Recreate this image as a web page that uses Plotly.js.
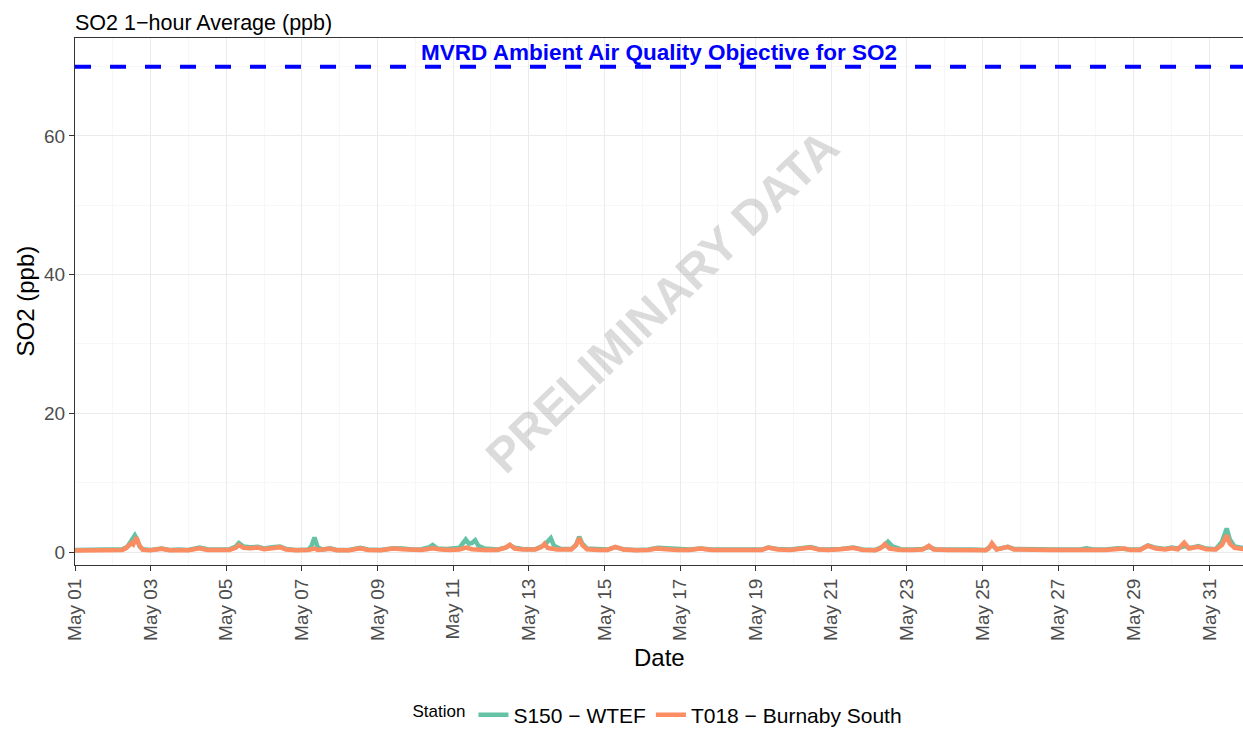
<!DOCTYPE html>
<html>
<head>
<meta charset="utf-8">
<script src="https://cdn.plot.ly/plotly-3.0.1.min.js"></script>
<style>html,body{margin:0;padding:0;background:#fff;}#chart{width:1243px;height:729px;}</style>
</head>
<body>
<div id="chart"></div>
<script>
// ---- data (hourly SO2, ppb; key readings) ----
const seriesNames = ["S150 \u2212 WTEF", "T018 \u2212 Burnaby South"];
const seriesColors = ["#66C2A5", "#FC8D62"];
const yearPrefix = "2023-";

const s150Time = ["05-01 00","05-01 06","05-01 12","05-01 18","05-02 00","05-02 06","05-02 09","05-02 12","05-02 14","05-02 15","05-02 17","05-02 19","05-03 00","05-03 07","05-03 12","05-03 18","05-04 00","05-04 07","05-04 12","05-04 18","05-05 02","05-05 06","05-05 08","05-05 11","05-05 15","05-05 20","05-06 00","05-06 05","05-06 10","05-06 14","05-06 20","05-07 04","05-07 06","05-07 08","05-07 10","05-07 13","05-07 18","05-07 22","05-08 06","05-08 13","05-08 18","05-09 02","05-09 10","05-09 16","05-09 22","05-10 04","05-10 09","05-10 11","05-10 14","05-10 20","05-11 04","05-11 06","05-11 08","05-11 10","05-11 12","05-11 14","05-11 16","05-11 20","05-12 04","05-12 10","05-12 12","05-12 15","05-12 20","05-13 04","05-13 10","05-13 12","05-13 14","05-13 16","05-13 20","05-14 03","05-14 06","05-14 08","05-14 10","05-14 13","05-14 20","05-15 02","05-15 07","05-15 12","05-15 20","05-16 04","05-16 10","05-16 16","05-16 22","05-17 06","05-17 13","05-17 20","05-18 06","05-18 14","05-18 22","05-19 04","05-19 08","05-19 14","05-19 22","05-20 05","05-20 11","05-20 16","05-20 22","05-21 06","05-21 14","05-21 20","05-22 04","05-22 09","05-22 12","05-22 15","05-22 20","05-23 04","05-23 10","05-23 14","05-23 18","05-24 02","05-24 10","05-24 18","05-25 02","05-25 06","05-25 09","05-25 16","05-25 20","05-26 04","05-26 12","05-26 20","05-27 06","05-27 14","05-27 18","05-27 22","05-28 06","05-28 14","05-28 20","05-29 04","05-29 09","05-29 14","05-29 20","05-30 00","05-30 04","05-30 08","05-30 12","05-30 17","05-30 22","05-31 04","05-31 08","05-31 11","05-31 13","05-31 16","05-31 23"];
const s150Val = [0.3,0.35,0.4,0.3,0.35,0.4,0.7,1.6,2.4,2.0,0.8,0.4,0.3,0.5,0.3,0.35,0.3,0.65,0.4,0.35,0.4,0.8,1.3,0.8,0.7,0.75,0.5,0.7,0.8,0.45,0.3,0.35,0.8,2.1,0.7,0.35,0.55,0.3,0.3,0.6,0.35,0.3,0.55,0.5,0.35,0.4,0.7,1.0,0.5,0.45,0.6,1.2,1.8,1.2,1.3,1.7,0.9,0.5,0.35,0.7,1.0,0.6,0.45,0.4,1.0,1.5,2.0,0.9,0.45,0.45,1.0,2.2,1.2,0.5,0.4,0.35,0.7,0.4,0.3,0.35,0.6,0.5,0.35,0.35,0.5,0.35,0.35,0.4,0.35,0.35,0.65,0.45,0.35,0.5,0.7,0.4,0.35,0.45,0.65,0.35,0.3,0.8,1.5,0.8,0.4,0.35,0.45,0.7,0.4,0.35,0.4,0.35,0.3,1.0,0.4,0.75,0.45,0.35,0.4,0.35,0.35,0.35,0.55,0.35,0.35,0.55,0.4,0.35,0.95,0.6,0.45,0.65,0.5,0.85,0.6,0.85,0.5,0.4,1.5,3.4,1.8,0.8,0.5];

const t018Time = ["05-01 00","05-01 06","05-01 12","05-01 18","05-02 00","05-02 06","05-02 08","05-02 10","05-02 12","05-02 13","05-02 15","05-02 17","05-02 19","05-03 00","05-03 07","05-03 12","05-03 18","05-04 00","05-04 07","05-04 12","05-04 18","05-05 02","05-05 06","05-05 08","05-05 11","05-05 15","05-05 20","05-06 00","05-06 05","05-06 10","05-06 14","05-06 20","05-07 04","05-07 08","05-07 10","05-07 18","05-07 22","05-08 06","05-08 13","05-08 18","05-09 02","05-09 10","05-09 16","05-09 22","05-10 04","05-10 11","05-10 16","05-10 22","05-11 04","05-11 08","05-11 12","05-11 20","05-12 04","05-12 09","05-12 12","05-12 15","05-12 20","05-13 04","05-13 08","05-13 10","05-13 12","05-13 18","05-14 03","05-14 06","05-14 08","05-14 10","05-14 13","05-14 20","05-15 02","05-15 07","05-15 12","05-15 20","05-16 04","05-16 09","05-16 16","05-16 22","05-17 06","05-17 13","05-17 20","05-18 06","05-18 14","05-18 22","05-19 04","05-19 08","05-19 14","05-19 22","05-20 05","05-20 11","05-20 16","05-20 22","05-21 06","05-21 14","05-21 20","05-22 04","05-22 07","05-22 10","05-22 13","05-22 20","05-23 04","05-23 10","05-23 14","05-23 17","05-24 02","05-24 10","05-24 18","05-25 02","05-25 04","05-25 06","05-25 09","05-25 16","05-25 20","05-26 04","05-26 12","05-26 20","05-27 06","05-27 14","05-27 18","05-27 22","05-28 06","05-28 18","05-28 22","05-29 04","05-29 09","05-29 14","05-29 20","05-30 00","05-30 04","05-30 08","05-30 11","05-30 17","05-30 22","05-31 04","05-31 08","05-31 11","05-31 13","05-31 16","05-31 23"];
const t018Val = [0.2,0.25,0.3,0.2,0.25,0.3,0.5,1.0,1.3,1.1,2.1,0.9,0.3,0.25,0.45,0.25,0.3,0.25,0.55,0.3,0.3,0.3,0.6,1.0,0.6,0.55,0.65,0.4,0.55,0.7,0.35,0.25,0.3,0.5,0.3,0.45,0.25,0.25,0.55,0.3,0.25,0.5,0.4,0.3,0.3,0.55,0.35,0.3,0.35,0.65,0.4,0.3,0.3,0.6,1.05,0.5,0.35,0.35,0.7,1.2,0.6,0.35,0.35,1.0,2.0,1.0,0.4,0.3,0.3,0.75,0.35,0.25,0.3,0.5,0.35,0.3,0.3,0.5,0.3,0.25,0.3,0.3,0.3,0.65,0.35,0.3,0.5,0.65,0.35,0.3,0.4,0.6,0.3,0.25,0.5,1.15,0.5,0.3,0.3,0.35,0.9,0.35,0.3,0.3,0.3,0.25,0.5,1.25,0.35,0.75,0.35,0.3,0.3,0.3,0.3,0.3,0.35,0.3,0.3,0.5,0.3,0.3,0.9,0.5,0.35,0.55,0.4,1.35,0.5,0.75,0.4,0.35,1.0,2.4,1.2,0.6,0.4];

const objectiveValue = 70;
const objectiveLabel = "MVRD Ambient Air Quality Objective for SO2";
const watermark = "PRELIMINARY DATA";
const titleText = "SO2 1\u2212hour Average (ppb)";
const xTitle = "Date";
const yTitle = "SO2 (ppb)";
const legendTitle = "Station";
const xRange = ["2023-05-01 00:00", "2023-05-31 21:20"];
const yRange = [-1.875, 74.13];
const yTicks = [0, 20, 40, 60];
const yMinorTicks = [10, 30, 50, 70];

const toDate = t => yearPrefix + t + ":00";

const font = "Liberation Sans, Arial, sans-serif";
const traces = [
  {x: s150Time.map(toDate), y: s150Val, name: seriesNames[0]},
  {x: t018Time.map(toDate), y: t018Val, name: seriesNames[1]}
].map((tr, i) => Object.assign(tr, {
  type: "scatter", mode: "lines",
  line: {color: seriesColors[i], width: 4.5}
}));

const L = 75, T = 38, W = 1168, H = 527;
const layout = {
  width: 1243, height: 729,
  margin: {l: L, r: 0, t: T, b: 729 - T - H, autoexpand: false},
  paper_bgcolor: "#fff", plot_bgcolor: "#fff",
  font: {family: font, color: "#000"},
  title: {text: titleText, x: L/1243, xanchor: "left", y: 1 - 22/729, yanchor: "middle",
          font: {size: 21.5, color: "#000", family: font}},
  xaxis: {
    type: "date", range: xRange,
    tick0: "2023-05-01", dtick: 2*86400000, tickformat: "%b %d", tickangle: -90,
    tickfont: {size: 19, color: "#4D4D4D"},
    ticks: "outside", ticklen: 5, tickcolor: "#333", tickwidth: 1,
    showgrid: true, gridcolor: "#EBEBEB", gridwidth: 1,
    minor: {dtick: 86400000, tick0: "2023-05-01", showgrid: true, gridcolor: "#F3F3F3", gridwidth: 0.7},
    showline: true, linecolor: "#333", linewidth: 1, mirror: true,
    zeroline: false, automargin: false
  },
  yaxis: {
    range: yRange, tickvals: yTicks,
    tickfont: {size: 19, color: "#4D4D4D"},
    ticks: "outside", ticklen: 5, tickcolor: "#333", tickwidth: 1,
    showgrid: true, gridcolor: "#EBEBEB", gridwidth: 1,
    minor: {tickvals: yMinorTicks, showgrid: true, gridcolor: "#F3F3F3", gridwidth: 0.7},
    showline: true, linecolor: "#333", linewidth: 1, mirror: true,
    zeroline: false, automargin: false
  },
  shapes: [{
    type: "line", xref: "paper", x0: 0, x1: 1, yref: "y", y0: objectiveValue, y1: objectiveValue,
    line: {color: "#0000FF", width: 4, dash: "16px,19px"}, layer: "above"
  }],
  annotations: [
    {text: "<b>" + objectiveLabel + "</b>", xref: "paper", x: 0.5, yref: "y", y: 72.1,
     showarrow: false, font: {size: 22.5, color: "#0000FF", family: font}},
    {text: "<b>" + watermark + "</b>", xref: "paper", x: (662-L)/W, yref: "paper", y: (T + H - 301)/H,
     showarrow: false, textangle: -44, font: {size: 48, color: "rgba(170,170,170,0.42)", family: font}},
    {text: xTitle, xref: "paper", x: (659-L)/W, yref: "paper", y: (T + H - 657)/H, yanchor: "middle",
     showarrow: false, font: {size: 24, color: "#000", family: font}},
    {text: yTitle, xref: "paper", x: (25-L)/W, xanchor: "center", yref: "paper", y: 0.5, yanchor: "middle",
     textangle: -90, showarrow: false, font: {size: 24, color: "#000", family: font}}
  ],
  showlegend: true,
  legend: {orientation: "h", x: 0.5, xanchor: "center", y: (T + H - 715)/H, yanchor: "middle",
           title: {text: legendTitle, side: "left", font: {size: 17, color: "#000"}},
           font: {size: 21, color: "#000"}, tracegroupgap: 0}
};

Plotly.newPlot("chart", traces, layout, {displayModeBar: false, staticPlot: true});
</script>
</body>
</html>
